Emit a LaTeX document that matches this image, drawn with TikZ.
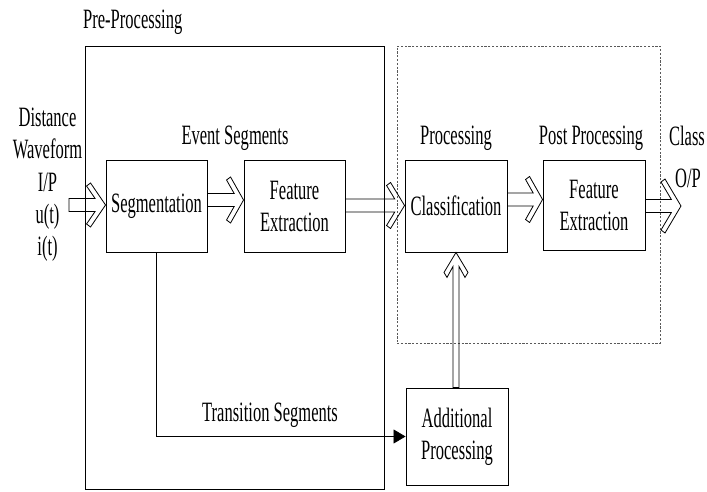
\documentclass[tikz,border=0pt]{standalone}
\usepackage{fontspec}
\setmainfont{Liberation Serif}[FakeStretch=0.59]
\usetikzlibrary{calc,arrows.meta}
\tikzset{
  box/.style={draw, line width=0.9pt, inner sep=0pt, minimum width=101pt, minimum height=92pt, align=center, font=\fontsize{28}{32}\selectfont},
  lbl/.style={inner sep=0pt, font=\fontsize{28}{32}\selectfont},
  arrowline/.style={draw, line width=0.8pt, line join=miter},
  groupbox/.style={draw, line width=0.8pt, inner sep=0pt},
  dotbox/.style={draw=black!65, dash pattern=on 2.2pt off 1.6pt, line width=0.8pt, inner sep=0pt},
}
% horizontal hollow block arrow: #1 start anchor, #2 tip anchor, #3 vertical offset (px, down positive),
% #4 head length, #5 head half height
\newcommand\harrow[5]{%
  \draw[arrowline] let \p1=($(#1)+(0,#3)$), \p2=($(#2)+(0,#3)$),
      \n1={(#4+4-(#5-9.5)*#4/#5)*1pt} in
    (\x1,\y2+6.5pt) -- (\x2-\n1,\y2+6.5pt) -- (\x2-#4pt-4pt,\y2+#5pt-3pt) -- (\x2-#4pt,\y2+#5pt) --
    (\x2,\y2) --
    (\x2-#4pt,\y2-#5pt) -- (\x2-#4pt-4pt,\y2-#5pt+3pt) -- (\x2-\n1,\y2-6.5pt) -- (\x1,\y2-6.5pt) -- cycle;}
\begin{document}
\begin{tikzpicture}[x=1pt,y=-1pt]
\useasboundingbox (0,0) rectangle (707,492);
% group boxes
\node[groupbox, minimum width=299pt, minimum height=443pt] (pre) at (234.5,267.5) {};
\node[dotbox, minimum width=263pt, minimum height=297pt] (proc) at (528.5,194.5) {};
% blocks
\node[box] (seg) at (156.5,206) {Segmentation};
\node[box] (fe1) at (294.5,206) {Feature\\Extraction};
\node[box, minimum width=102pt] (cls) at (456,206) {Classification};
\node[box, minimum width=102pt, minimum height=90pt] (fe2) at (594,205.5) {Feature\\Extraction};
\node[box, minimum width=102pt, minimum height=97pt] (add) at (457,436.5) {Additional\\Processing};
% labels
\node[lbl, anchor=base west] (preL) at (83,29) {Pre-Processing};
\node[lbl, anchor=base] (evL) at (235,145) {Event Segments};
\node[lbl, anchor=base] (prL) at (456,145) {Processing};
\node[lbl, anchor=base] (ppL) at (591,145) {Post Processing};
\node[lbl, anchor=base] (clL) at (687,146) {Class};
\node[lbl, anchor=base] (opL) at (688,187) {O/P};
\node[lbl, anchor=base] (in1) at (47.5,127) {Distance};
\node[lbl, anchor=base] (in2) at (47.5,159) {Waveform};
\node[lbl, anchor=base] (in3) at (47.5,191) {I/P};
\node[lbl, anchor=base] (in4) at (47.5,223) {u(t)};
\node[lbl, anchor=base] (in5) at (47.5,255) {i(t)};
\node[lbl, anchor=base west] (trL) at (202,421) {Transition Segments};
% connectors
\coordinate (inp) at (69,205);
\coordinate (outp) at (681,206);
\harrow{inp}{seg.west |- inp}{0}{15}{22}
\harrow{seg.east}{fe1.west}{-6}{13}{23}
\harrow{fe1.east}{cls.west}{-0.5}{14}{23}
\harrow{cls.east}{fe2.west}{-6}{13}{23}
\harrow{fe2.east}{outp}{0}{16}{27}
\draw[arrowline] let \p1=(add.north), \p2=(cls.south) in
  (\x2-3pt,\y1) -- (\x2-3pt,\y2-14pt) -- (\x2-9pt,\y2-25pt) -- (\x2-12pt,\y2-20pt) --
  (\x2,\y2) --
  (\x2+12pt,\y2-20pt) -- (\x2+9pt,\y2-25pt) -- (\x2+3pt,\y2-14pt) -- (\x2+3pt,\y1) -- cycle;
\draw[line width=0.8pt, -{Triangle[length=12pt,width=14pt]}] (seg.south) |- (add.west);
\end{tikzpicture}
\end{document}
